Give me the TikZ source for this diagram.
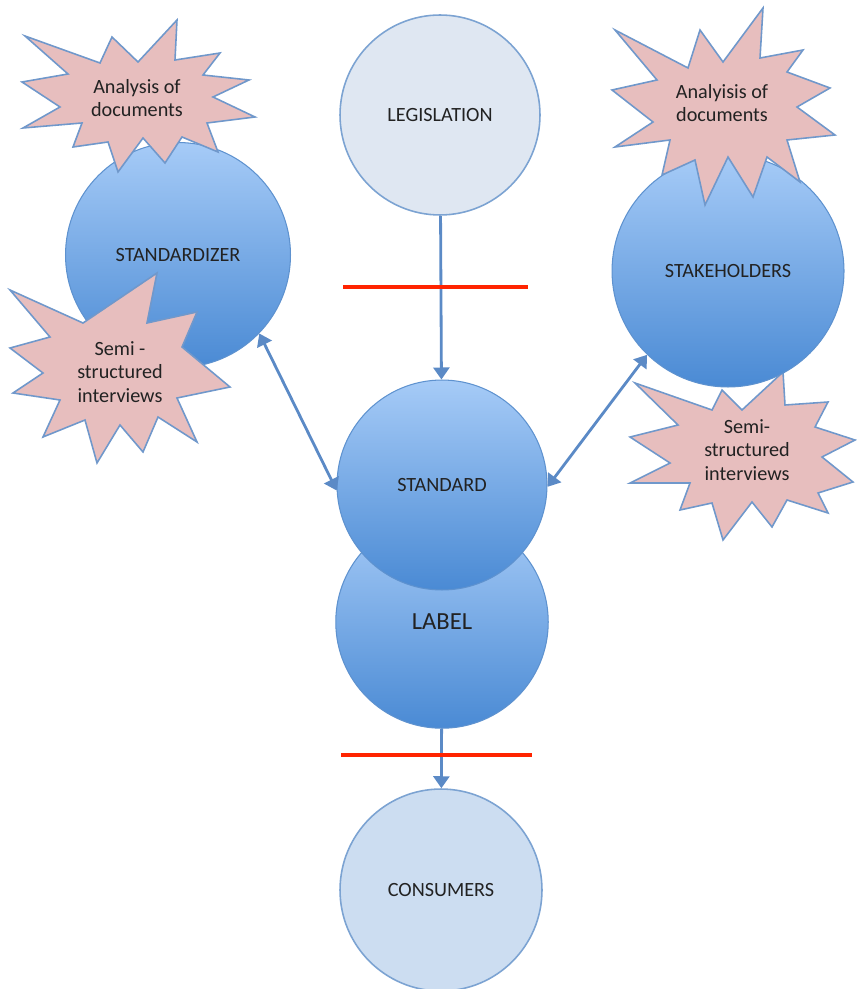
\documentclass[tikz,border=0pt]{standalone}
\usepackage{fontspec}
\setmainfont{Carlito}
\usetikzlibrary{arrows.meta}
\definecolor{balltop}{HTML}{A6CBF7}
\definecolor{ballbot}{HTML}{4A8AD4}
\definecolor{ballrim}{HTML}{5E92CF}
\definecolor{palerim}{HTML}{7CA3D2}
\definecolor{legisfill}{HTML}{DFE7F2}
\definecolor{consfill}{HTML}{CCDDF1}
\definecolor{burstfill}{HTML}{E7BEBE}
\definecolor{burstrim}{HTML}{7098CB}
\definecolor{linkblue}{HTML}{5B8AC6}
\definecolor{barred}{HTML}{FF2400}
\definecolor{inktext}{HTML}{222222}
\begin{document}
\begin{tikzpicture}[x=0.02cm, y=-0.02cm,
    every node/.style={text=inktext, font=\fontsize{11.5}{13.5}\selectfont},
    blueball/.style={circle, inner sep=0pt, draw=ballrim, line width=0.6pt, top color=balltop, bottom color=ballbot},
    paleball/.style={circle, inner sep=0pt, draw=palerim, line width=0.9pt},
    burst/.style={draw=burstrim, fill=burstfill, line width=0.9pt, line join=miter},
    bursttext/.style={align=center},
    link/.style={draw=linkblue, line width=1.6pt, -{Triangle[length=2.4mm,width=3.2mm]}},
    twoway/.style={link, {Triangle[length=2.4mm,width=3.2mm]}-{Triangle[length=2.4mm,width=3.2mm]}},
    redbar/.style={draw=barred, line width=2.3pt}]
  \useasboundingbox (0,0) rectangle (856,989);

  % centre column
  \node[blueball, minimum size=4.25cm, font=\fontsize{14}{16}\selectfont] (label) at (442,622) {LABEL};
  \node[blueball, minimum size=4.2cm] (standard) at (442,485) {STANDARD};
  \node[paleball, fill=legisfill, minimum size=4cm] (legis) at (440,115) {LEGISLATION};
  \node[paleball, fill=consfill, minimum size=4.04cm] (consumers) at (441,890) {CONSUMERS};

  % left side
  \node[blueball, minimum size=4.5cm] (standardizer) at (178,255) {STANDARDIZER};
  \draw[burst] (25,36) -- (100,63) -- (112,37) -- (138,62) -- (177,20) -- (175,60) -- (220,53) -- (203,75)
     -- (249,80) -- (213,97) -- (255,117) -- (207,123) -- (218,152) -- (182,137) -- (165,163) -- (143,138)
     -- (118,172) -- (108,142) -- (73,147) -- (82,123) -- (23,128) -- (60,107) -- (22,82) -- (68,74) -- cycle;
  \node[bursttext] (docsleft) at (137,98) {Analysis of\\documents};
  \draw[burst] (10,290) -- (83,323) -- (157,273) -- (147,323) -- (197,312) -- (182,347) -- (230,387)
     -- (177,398) -- (197,442) -- (158,417) -- (143,452) -- (120,425) -- (97,463) -- (85,420) -- (43,437)
     -- (60,400) -- (13,393) -- (43,373) -- (10,348) -- (50,337) -- cycle;
  \node[bursttext] (intleft) at (120,372) {Semi -\\structured\\interviews};

  % right side
  \draw[burst] (635,383) -- (712,410) -- (722,390) -- (742,410) -- (783,372) -- (785,405) -- (828,402)
     -- (815,427) -- (855,440) -- (822,457) -- (853,482) -- (818,493) -- (828,513) -- (787,500) -- (772,527)
     -- (752,502) -- (723,540) -- (712,503) -- (680,510) -- (690,483) -- (630,483) -- (670,463) -- (630,437)
     -- (678,425) -- cycle;
  \node[bursttext] (intright) at (747,450) {Semi-\\structured\\interviews};
  \node[blueball, minimum size=4.64cm] (stakeholders) at (728,271) {STAKEHOLDERS};
  \draw[burst] (615,30) -- (688,68) -- (700,30) -- (723,62) -- (763,8) -- (760,58) -- (803,50) -- (787,72)
     -- (830,88) -- (797,107) -- (835,135) -- (787,140) -- (800,182) -- (767,157) -- (753,197) -- (728,157)
     -- (705,205) -- (695,160) -- (662,175) -- (670,140) -- (615,147) -- (653,122) -- (612,90) -- (657,80) -- cycle;
  \node[bursttext] (docsright) at (722,103) {Analyisis of\\documents};

  % arrows
  \draw[link] (legis) -- (standard);
  \draw[link] (label) -- (consumers);
  \draw[twoway] (standardizer.-44) -- (standard.183);
  \draw[twoway] (stakeholders.-134) -- (standard.-1);

  % barriers
  \draw[redbar] (343,287) -- (528,287);
  \draw[redbar] (341,755) -- (532,755);
\end{tikzpicture}
\end{document}
